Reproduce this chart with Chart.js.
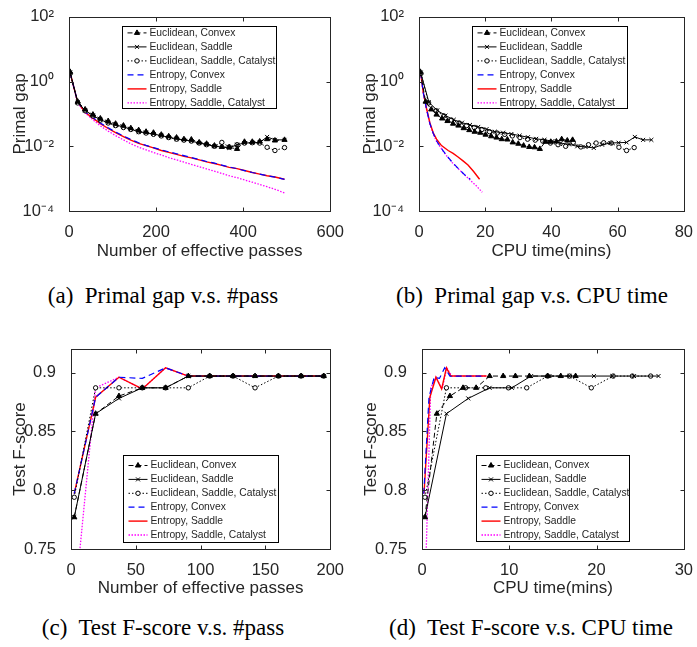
<!DOCTYPE html>
<html>
<head>
<meta charset="utf-8">
<script src="https://cdn.jsdelivr.net/npm/chart.js@4.4.0/dist/chart.umd.min.js"></script>
<style>
  body { margin: 0; background: #fff; width: 697px; height: 647px; position: relative; overflow: hidden; }
  canvas { position: absolute; }
  .cap { position: absolute; text-align: center; font-family: "Liberation Serif", "Times New Roman", serif; font-size: 23px; line-height: 23px; color: #000; white-space: nowrap; }
</style>
</head>
<body>
<canvas id="chartA" width="348" height="272" style="left:0;top:0"></canvas>
<canvas id="chartB" width="348" height="272" style="left:349px;top:0"></canvas>
<canvas id="chartC" width="348" height="272" style="left:0;top:330px"></canvas>
<canvas id="chartD" width="348" height="272" style="left:349px;top:330px"></canvas>
<div class="cap" style="left:0;width:326px;top:284px">(a)&nbsp; Primal gap v.s. #pass</div>
<div class="cap" style="left:358px;width:348px;top:284px">(b)&nbsp; Primal gap v.s. CPU time</div>
<div class="cap" style="left:0;width:326px;top:616px">(c)&nbsp; Test F-score v.s. #pass</div>
<div class="cap" style="left:357px;width:348px;top:616px">(d)&nbsp; Test F-score v.s. CPU time</div>
<script>
const FONT = '"Liberation Sans", Arial, sans-serif';
const INK = '#262626';

const seriesNames = ['Euclidean, Convex', 'Euclidean, Saddle', 'Euclidean, Saddle, Catalyst',
                     'Entropy, Convex', 'Entropy, Saddle', 'Entropy, Saddle, Catalyst'];

// tick values and labels
const gapTicks = [1e-4, 1e-2, 1, 1e2];
const gapTickLabels = ['10⁻⁴', '10⁻²', '10⁰', '10²'];
const fTicks = [0.75, 0.8, 0.85, 0.9];
const fTickLabels = ['0.75', '0.8', '0.85', '0.9'];
const passTicksA = [0, 200, 400, 600];
const timeTicksB = [0, 20, 40, 60, 80];
const passTicksC = [0, 50, 100, 150, 200];
const timeTicksD = [0, 10, 20, 30];

// (a) primal gap vs effective passes
const passA = [2.5, 20, 37, 55, 72, 90, 107, 125, 142, 160, 177, 194, 212, 229, 247, 264, 281, 299, 316, 334,
               351, 368, 386, 403, 421, 438, 455, 473, 495];
const gapEucConvex = [2.0, 0.24, 0.138, 0.0955, 0.0724, 0.0603, 0.050, 0.0437, 0.0363, 0.0316,
                      0.0282, 0.0263, 0.0229, 0.0204, 0.0186, 0.0166, 0.0162, 0.0132, 0.0120, 0.0105,
                      0.00955, 0.0093, 0.0083, 0.0138, 0.0138, 0.0141, 0.0166, 0.0151, 0.0158];
const gapEucSaddle = [1.91, 0.229, 0.129, 0.0891, 0.0661, 0.0537, 0.0457, 0.0398, 0.0339, 0.0282,
                      0.0263, 0.0240, 0.0214, 0.0191, 0.0170, 0.0158, 0.0145, 0.0126, 0.0115, 0.0100,
                      0.00955, 0.00891, 0.0112, 0.0126, 0.0129, 0.0132, 0.0195, 0.0158, 0.0158];
const gapEucCatalyst = [1.78, 0.219, 0.126, 0.0871, 0.0646, 0.0525, 0.0437, 0.0380, 0.0331, 0.0282,
                        0.0257, 0.0234, 0.0209, 0.0186, 0.0166, 0.0155, 0.0145, 0.0126, 0.0112, 0.0100,
                        0.0132, 0.00955, 0.0112, 0.0126, 0.0129, 0.0126, 0.00933, 0.00741, 0.00912];
const gapEntConvex = [1.91, 0.234, 0.115, 0.0776, 0.0525, 0.0372, 0.0275, 0.0209, 0.0162, 0.0129,
                      0.0107, 0.00912, 0.00776, 0.00676, 0.00589, 0.00513, 0.00447, 0.00389, 0.00339, 0.00302,
                      0.00263, 0.00229, 0.00204, 0.00178, 0.00155, 0.00138, 0.00123, 0.00112, 0.000955];
const gapEntSaddle = [1.91, 0.229, 0.112, 0.0741, 0.0501, 0.0355, 0.0263, 0.0200, 0.0155, 0.0123,
                      0.0105, 0.00891, 0.00741, 0.00646, 0.00562, 0.00490, 0.00437, 0.00380, 0.00331, 0.00295,
                      0.00257, 0.00224, 0.00204, 0.00178, 0.00155, 0.00138, 0.00123, 0.00112, 0.000955];
const gapEntCatalyst = [1.78, 0.219, 0.107, 0.0661, 0.0427, 0.0295, 0.0214, 0.0158, 0.0120, 0.00933,
                        0.00776, 0.00646, 0.00537, 0.00447, 0.00380, 0.00324, 0.00275, 0.00234, 0.00200, 0.00170,
                        0.00145, 0.00123, 0.00107, 0.000912, 0.000776, 0.000661, 0.000562, 0.000468, 0.000363];

// (b) primal gap vs CPU time (euclidean runs reuse the gap values above)
const timeEucConvexB = [0.4, 2.0, 3.7, 5.3, 7.0, 8.6, 10.3, 11.9, 13.5, 15.2, 16.8, 18.5, 20.1, 21.8, 23.4,
                        25.0, 26.7, 28.3, 30.0, 31.6, 33.3, 34.9, 36.5, 38.2, 39.8, 41.5, 43.1, 44.8, 46.4];
const timeEucSaddleB = [0.5, 3.0, 5.5, 8.0, 10.5, 13.0, 15.4, 17.9, 20.4, 22.9, 25.4, 27.9, 30.4, 32.9, 35.4,
                        37.9, 40.3, 42.8, 45.3, 47.8, 50.3, 52.8, 55.3, 57.8, 60.3, 62.7, 65.2, 67.7, 70.2];
const timeEucCatalystB = [0.6, 2.9, 5.2, 7.5, 9.8, 12.1, 14.4, 16.7, 19.0, 21.3, 23.6, 25.9, 28.2, 30.5, 32.8,
                          35.1, 37.4, 39.7, 42.0, 44.3, 46.6, 48.9, 51.2, 53.5, 55.8, 58.1, 60.4, 62.7, 65.0];
const timeEntConvexB = [0.5, 1.3, 2.3, 3.3, 4.3, 5.3, 6.3, 7.3, 8.4, 10, 11.9, 13.9, 15.5];
const gapEntConvexB = [1.91, 0.447, 0.138, 0.0501, 0.0251, 0.0148, 0.0102, 0.00724, 0.00513, 0.00324, 0.00204, 0.00129, 0.000955];
const timeEntSaddleB = [0.5, 1.3, 2.3, 3.3, 4.3, 5.3, 6.8, 8.8, 10.3, 11.8, 13.3, 14.8, 16.5, 18.3];
const gapEntSaddleB = [1.91, 0.457, 0.145, 0.0525, 0.0263, 0.0166, 0.0105, 0.00741, 0.00603, 0.00468, 0.00355, 0.00263, 0.00166, 0.000955];
const timeEntCatalystB = [0.5, 1.3, 2.3, 3.3, 4.3, 5.3, 6.3, 7.3, 8.4, 10, 11.9, 13.9, 15.5, 17.3, 19.1];
const gapEntCatalystB = [1.78, 0.437, 0.132, 0.0479, 0.0240, 0.0141, 0.0100, 0.00708, 0.00501, 0.00316, 0.00200, 0.00126, 0.000891, 0.000603, 0.000380];

// (c) test F-score vs effective passes
const passC = [2.5, 19, 37, 55, 73, 90.5, 107, 125, 142, 160, 177.5, 195];
const fEucConvex = [0.777, 0.865, 0.880, 0.887, 0.887, 0.897, 0.897, 0.897, 0.897, 0.897, 0.897, 0.897];
const fEucSaddle = [0.777, 0.865, 0.878, 0.887, 0.887, 0.897, 0.897, 0.897, 0.897, 0.897, 0.897, 0.897];
const fEucCatalyst = [0.794, 0.887, 0.887, 0.887, 0.887, 0.887, 0.897, 0.897, 0.887, 0.897, 0.897, 0.897];
const fEntConvex = [0.797, 0.879, 0.896, 0.895, 0.904, 0.897, 0.897, 0.897, 0.897, 0.897, 0.897, 0.897];
const fEntSaddle = [0.797, 0.879, 0.896, 0.886, 0.904, 0.897, 0.897, 0.897, 0.897, 0.897, 0.897, 0.897];
const fEntCatalyst = [0.70, 0.887, 0.896, 0.886, 0.904, 0.897, 0.897, 0.897, 0.897, 0.897, 0.897, 0.897];

// (d) test F-score vs CPU time
const timeEucConvexD = [0.34, 1.7, 3.2, 4.7, 6.2, 7.75, 9.3, 10.7, 12.3, 14.4, 15.9, 17.6];
const timeEucSaddleD = [0.34, 2.8, 5.3, 7.75, 10.3, 12.5, 14.6, 16.9, 19.7, 21.8, 24.3, 27.1];
const timeEucCatalystD = [0.34, 2.8, 5.0, 7.3, 9.9, 12.0, 14.4, 16.9, 19.4, 21.9, 24.1, 26.2];
const timeEntConvexD = [0.2, 0.8, 1.4, 2.0, 2.6, 3.2, 3.8, 4.4, 5.0, 5.6, 6.2, 6.8];
const timeEntSaddleD = [0.23, 0.9, 1.6, 2.25, 2.8, 3.3, 4.0, 4.7, 5.3, 6.0, 6.7, 7.4];
const timeEntCatalystD = [0.3, 1.0, 1.6, 2.3, 2.85, 3.4, 4.1, 4.8, 5.4, 6.1, 6.8, 7.5];

// line styles, one per series
const seriesStyles = [
  { color: '#000000', dash: [5, 3], width: 1, point: 'triangle', radius: 3, fill: '#000000' },
  { color: '#000000', dash: [], width: 1, point: 'crossRot', radius: 2.8, fill: '#000000' },
  { color: '#000000', dash: [1.5, 2], width: 1, point: 'circle', radius: 2.2, fill: '#ffffff' },
  { color: '#0000ff', dash: [6, 4], width: 1.2, point: 'circle', radius: 0, fill: '#0000ff' },
  { color: '#ff0000', dash: [], width: 1.4, point: 'circle', radius: 0, fill: '#ff0000' },
  { color: '#ff00ff', dash: [1.5, 1.5], width: 1.3, point: 'circle', radius: 0, fill: '#ff00ff' }
];

function buildDatasets(xsList, ysList) {
  return xsList.map((xs, i) => {
    const s = seriesStyles[i];
    return {
      label: seriesNames[i],
      data: xs.map((x, j) => ({ x: x, y: ysList[i][j] })),
      borderColor: s.color,
      borderDash: s.dash,
      borderWidth: s.width,
      pointStyle: s.point,
      pointRadius: s.radius,
      pointBorderColor: s.color,
      pointBackgroundColor: s.fill,
      pointBorderWidth: 1,
      tension: 0,
      fill: false
    };
  });
}

// box, inward ticks on all four sides, and legend inside the axes
const framePlugin = {
  id: 'frame',
  afterDraw(chart, args, opts) {
    const { ctx, chartArea: a, scales } = chart;
    const L = Math.round(a.left) + 0.5, T = Math.round(a.top) + 0.5;
    const R = Math.round(a.right) + 0.5, B = Math.round(a.bottom) + 0.5;
    ctx.save();
    ctx.strokeStyle = INK;
    ctx.lineWidth = 1;
    ctx.setLineDash([]);
    ctx.strokeRect(L, T, R - L, B - T);
    const len = 4;
    ctx.beginPath();
    scales.x.ticks.forEach(t => {
      const px = Math.round(scales.x.getPixelForValue(t.value)) + 0.5;
      ctx.moveTo(px, B); ctx.lineTo(px, B - len);
      ctx.moveTo(px, T); ctx.lineTo(px, T + len);
    });
    scales.y.ticks.forEach(t => {
      const py = Math.round(scales.y.getPixelForValue(t.value)) + 0.5;
      ctx.moveTo(L, py); ctx.lineTo(L + len, py);
      ctx.moveTo(R, py); ctx.lineTo(R - len, py);
    });
    ctx.stroke();

    const lg = opts.legend;
    const bx = Math.round(a.left + lg.x) + 0.5, by = Math.round(a.top + lg.y) + 0.5;
    ctx.fillStyle = '#ffffff';
    ctx.fillRect(bx, by, lg.w, lg.h);
    ctx.strokeStyle = '#000000';
    ctx.strokeRect(bx, by, lg.w, lg.h);
    chart.data.datasets.forEach((ds, i) => {
      const y = by + lg.first + i * lg.gap;
      ctx.save();
      ctx.strokeStyle = ds.borderColor;
      ctx.lineWidth = ds.borderWidth;
      ctx.setLineDash(ds.borderDash);
      ctx.beginPath();
      ctx.moveTo(bx + 5, y);
      ctx.lineTo(bx + 24, y);
      ctx.stroke();
      ctx.setLineDash([]);
      if (ds.pointRadius > 0) {
        ctx.fillStyle = ds.pointBackgroundColor;
        ctx.strokeStyle = ds.pointBorderColor;
        ctx.lineWidth = 1;
        Chart.helpers.drawPoint(ctx, { pointStyle: ds.pointStyle, radius: ds.pointRadius, rotation: 0, borderWidth: 1 }, bx + 14.5, y);
      }
      ctx.restore();
      ctx.fillStyle = INK;
      ctx.font = '10.3px ' + FONT;
      ctx.textBaseline = 'middle';
      ctx.textAlign = 'left';
      ctx.fillText(ds.label, bx + 27, y);
    });
    ctx.restore();
  }
};

function makeChart(id, cfg) {
  const tickFont = { family: FONT, size: 16.5 };
  const titleFont = { family: FONT, size: 17 };
  return new Chart(document.getElementById(id), {
    type: 'line',
    data: { datasets: cfg.datasets },
    options: {
      responsive: false,
      animation: false,
      devicePixelRatio: 1,
      layout: { padding: { left: 0, top: cfg.top, right: cfg.right, bottom: 0 } },
      plugins: { legend: { display: false }, tooltip: { enabled: false }, frame: { legend: cfg.legend } },
      scales: {
        x: {
          type: 'linear', min: cfg.xMin, max: cfg.xMax,
          grid: { display: false }, border: { display: false },
          afterBuildTicks: s => { s.ticks = cfg.xTicks.map(v => ({ value: v })); },
          afterFit: s => { s.height = cfg.xHeight; },
          ticks: { padding: 4, color: INK, font: tickFont, maxRotation: 0, autoSkip: false, callback: v => String(v) },
          title: { display: true, text: cfg.xTitle, color: INK, font: titleFont, padding: { top: 0, bottom: cfg.xTitlePad } }
        },
        y: {
          type: cfg.yType, min: cfg.yMin, max: cfg.yMax,
          grid: { display: false }, border: { display: false },
          afterBuildTicks: s => { s.ticks = cfg.yTicks.map(v => ({ value: v })); },
          afterFit: s => { s.width = cfg.yWidth; },
          ticks: { padding: 7, color: INK, font: tickFont, autoSkip: false, callback: (v, i) => cfg.yLabels[i] },
          title: { display: true, text: cfg.yTitle, color: INK, font: titleFont, padding: { top: cfg.yTitlePad, bottom: 0 } }
        }
      }
    },
    plugins: [framePlugin]
  });
}

makeChart('chartA', {
  datasets: buildDatasets([passA, passA, passA, passA, passA, passA],
    [gapEucConvex, gapEucSaddle, gapEucCatalyst, gapEntConvex, gapEntSaddle, gapEntCatalyst]),
  top: 10, right: 15, xHeight: 61, yWidth: 69, xTitlePad: 10.1, yTitlePad: 9.8,
  xMin: 0, xMax: 600, xTicks: passTicksA, xTitle: 'Number of effective passes',
  yType: 'logarithmic', yMin: 1e-4, yMax: 1e2, yTicks: gapTicks, yLabels: gapTickLabels, yTitle: 'Primal gap',
  legend: { x: 53, y: 9, w: 154, h: 82, first: 6.4, gap: 14 }
});

makeChart('chartB', {
  datasets: buildDatasets([timeEucConvexB, timeEucSaddleB, timeEucCatalystB, timeEntConvexB, timeEntSaddleB, timeEntCatalystB],
    [gapEucConvex, gapEucSaddle, gapEucCatalyst, gapEntConvexB, gapEntSaddleB, gapEntCatalystB]),
  top: 10, right: 13, xHeight: 61, yWidth: 70, xTitlePad: 10.1, yTitlePad: 10.8,
  xMin: 0, xMax: 80, xTicks: timeTicksB, xTitle: 'CPU time(mins)',
  yType: 'logarithmic', yMin: 1e-4, yMax: 1e2, yTicks: gapTicks, yLabels: gapTickLabels, yTitle: 'Primal gap',
  legend: { x: 53, y: 9, w: 155, h: 82, first: 6.4, gap: 14 }
});

makeChart('chartC', {
  datasets: buildDatasets([passC, passC, passC, passC, passC, passC],
    [fEucConvex, fEucSaddle, fEucCatalyst, fEntConvex, fEntSaddle, fEntCatalyst]),
  top: 19, right: 14, xHeight: 53, yWidth: 71, xTitlePad: 3.5, yTitlePad: 9.8,
  xMin: 0, xMax: 200, xTicks: passTicksC, xTitle: 'Number of effective passes',
  yType: 'linear', yMin: 0.75, yMax: 0.92, yTicks: fTicks, yLabels: fTickLabels, yTitle: 'Test F-score',
  legend: { x: 52, y: 106, w: 155, h: 87, first: 10, gap: 13.9 }
});

makeChart('chartD', {
  datasets: buildDatasets([timeEucConvexD, timeEucSaddleD, timeEucCatalystD, timeEntConvexD, timeEntSaddleD, timeEntCatalystD],
    [fEucConvex, fEucSaddle, fEucCatalyst, fEntConvex, fEntSaddle, fEntCatalyst]),
  top: 19, right: 12, xHeight: 53, yWidth: 73, xTitlePad: 3.5, yTitlePad: 12.5,
  xMin: 0, xMax: 30, xTicks: timeTicksD, xTitle: 'CPU time(mins)',
  yType: 'linear', yMin: 0.75, yMax: 0.92, yTicks: fTicks, yLabels: fTickLabels, yTitle: 'Test F-score',
  legend: { x: 54, y: 106, w: 153, h: 86, first: 10, gap: 13.9 }
});
</script>
</body>
</html>
